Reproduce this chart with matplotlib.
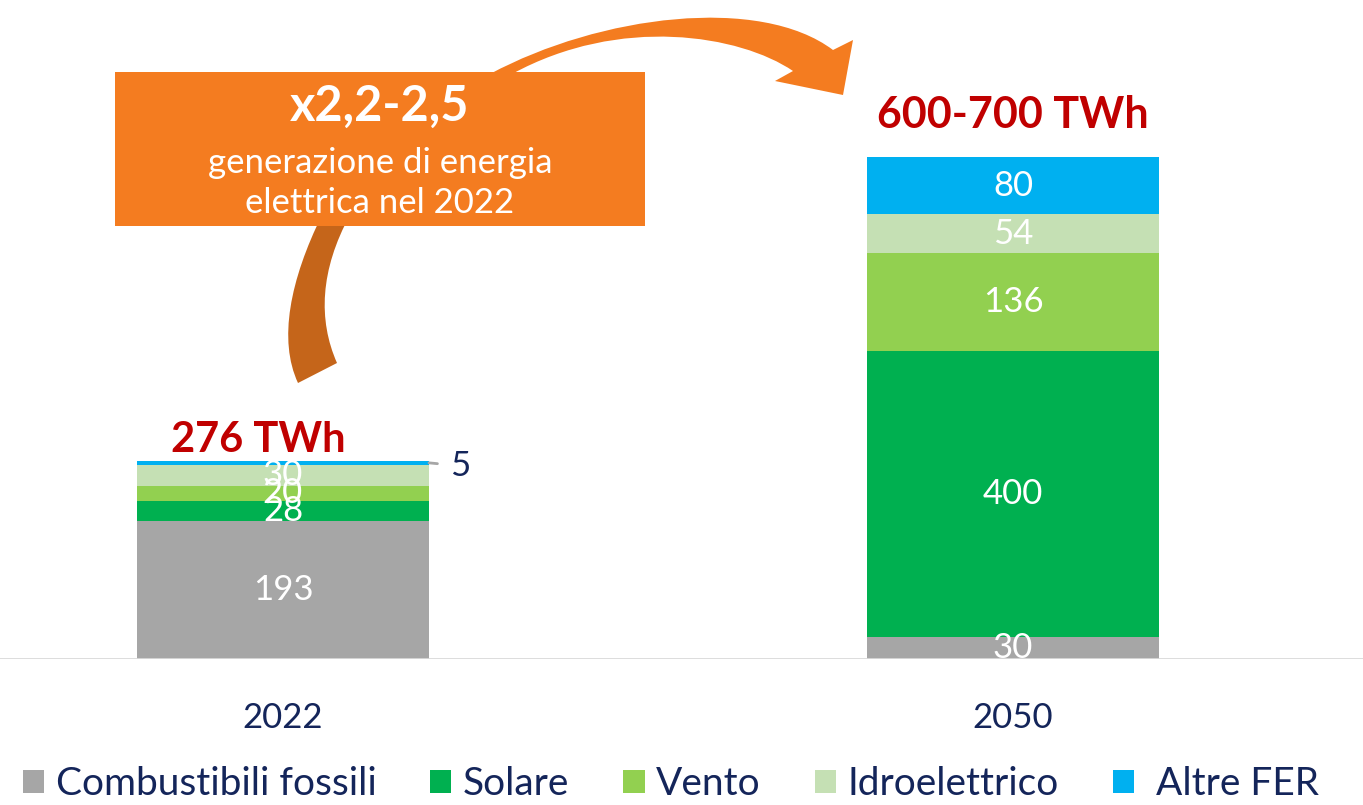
import numpy as np
import matplotlib
matplotlib.use('Agg')
import matplotlib.pyplot as plt
from matplotlib.patches import Patch, PathPatch, Rectangle
from matplotlib.path import Path

plt.rcParams['font.family'] = ['Lato', 'DejaVu Sans']

# dati (TWh)
anni = ['2022', '2050']
fonti = ['Combustibili fossili', 'Solare', 'Vento', 'Idroelettrico', 'Altre FER']
fossili = [193, 30]
solare = [28, 400]
vento = [20, 136]
idro = [30, 54]
altre = [5, 80]
totali_label = ['276 TWh', '600-700 TWh']
colori = ['#A6A6A6', '#00B050', '#92D050', '#C5E0B4', '#00B0F0']

NAVY = '#14255A'
RED = '#C00000'
ORANGE = '#F47C20'
ORANGE_DK = '#C5651A'

W, H = 1363, 805
fig = plt.figure(figsize=(W / 100, H / 100), dpi=100)
ax = fig.add_axes([0, 146 / H, 1, 1 - 146 / H])

serie = [fossili, solare, vento, idro, altre]
x = np.arange(len(anni))
larg = 0.4
base = np.zeros(len(anni))
for vals, col in zip(serie, colori):
    vals = np.array(vals, dtype=float)
    ax.bar(x, vals, larg, bottom=base, color=col, zorder=2)
    for i, v in enumerate(vals):
        if v >= 10:
            ax.text(x[i], base[i] + v / 2, str(int(v)), ha='center', va='center',
                    color='white', fontsize=25, clip_on=True, zorder=3)
    base = base + vals

# etichetta "5" per le altre FER del 2022
ax.annotate(str(altre[0]), xy=(x[0] + larg / 2, base[0] - altre[0] / 2),
            xytext=(31, -3), textcoords='offset pixels', ha='center', va='center',
            color=NAVY, fontsize=25,
            arrowprops=dict(arrowstyle='-', color='#A6A6A6', lw=2,
                            shrinkA=7, shrinkB=0))

# totali
ax.annotate(totali_label[0], xy=(x[0], base[0]), xytext=(-25, 2),
            textcoords='offset pixels', ha='center', va='bottom',
            color=RED, fontsize=30, fontweight='bold')
ax.annotate(totali_label[1], xy=(x[1], base[1]), xytext=(0, 42),
            textcoords='offset pixels', ha='center', va='center',
            color=RED, fontsize=31, fontweight='bold')

ax.set_xlim(-283 / 730, (W - 283) / 730)
ax.set_ylim(0, 659 / 502 * 700)
ax.axhline(0, color='#D9D9D9', lw=2, zorder=4)
for s in ax.spines.values():
    s.set_visible(False)
ax.set_yticks([])
ax.set_xticks(x)
ax.set_xticklabels(anni, fontsize=25, color=NAVY)
ax.tick_params(axis='x', length=0, pad=31)


# freccia e riquadro (coordinate in pixel dall'alto)
def px(pts):
    return [(a / W, 1 - b / H) for a, b in pts]


def freccia(pts, codes, col):
    p = Path(px(pts), codes)
    fig.patches.append(PathPatch(p, facecolor=col, edgecolor='none',
                                 transform=fig.transFigure, zorder=1))


M, C4, L, CL = Path.MOVETO, Path.CURVE4, Path.LINETO, Path.CLOSEPOLY
freccia([(490, 74), (600, 15), (760, -5), (833, 50),
         (853, 40), (843, 95), (775, 81), (793, 71),
         (740, 35), (620, 15), (512, 74), (490, 74)],
        [M, C4, C4, C4, L, L, L, L, C4, C4, C4, CL], ORANGE)
freccia([(322, 215), (290, 280), (278, 340), (298, 383),
         (337, 363), (318, 320), (320, 270), (350, 215), (322, 215)],
        [M, C4, C4, C4, L, C4, C4, C4, CL], ORANGE_DK)

fig.patches.append(Rectangle((115 / W, 1 - 226 / H), 530 / W, 154 / H,
                             transform=fig.transFigure, facecolor=ORANGE,
                             edgecolor='none', zorder=2))
fig.text(380 / W, 1 - 106 / H, 'x2,2-2,5', ha='center', va='center',
         color='white', fontsize=35, fontweight='bold', zorder=3)
fig.text(380 / W, 1 - 183 / H, 'generazione di energia\nelettrica nel 2022',
         ha='center', va='center', color='white', fontsize=25,
         linespacing=1.3, zorder=3)

# legenda
handles = [Patch(facecolor=c, edgecolor='none') for c in colori]
etichette = fonti[:-1] + [' ' + fonti[-1]]
fig.legend(handles, etichette, loc='center', bbox_to_anchor=(0.492, 1 - 784 / H),
           ncol=5, frameon=False, fontsize=28, labelcolor=NAVY,
           handlelength=0.55, handleheight=0.55, handletextpad=0.3,
           columnspacing=1.38, borderpad=0, borderaxespad=0)

plt.savefig('out.png', dpi=100)
